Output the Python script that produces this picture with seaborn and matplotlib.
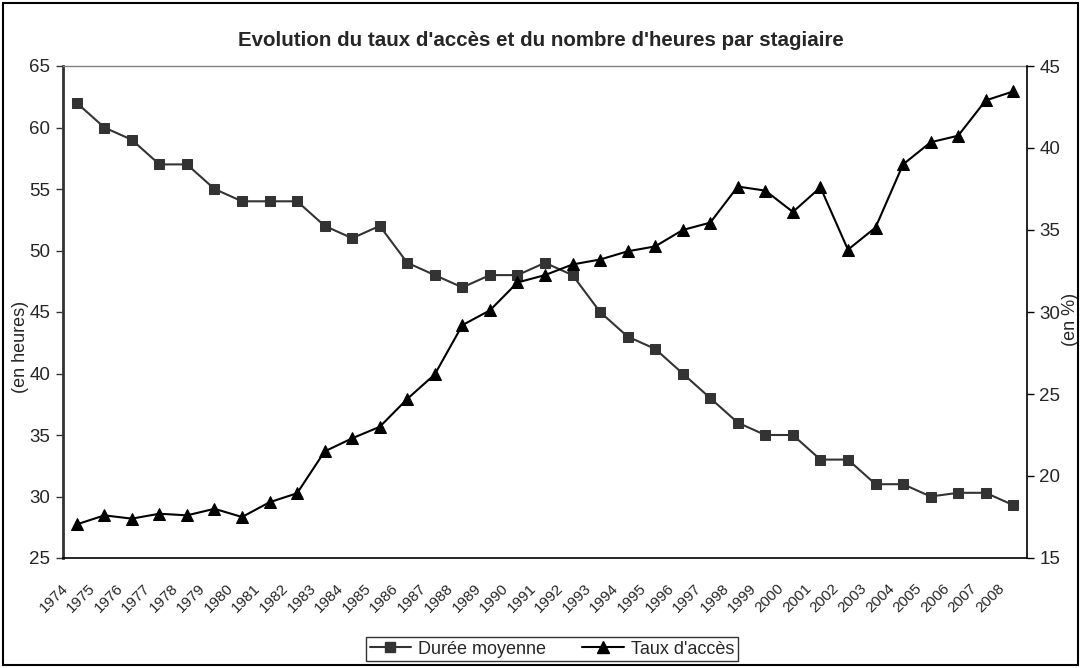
import numpy as np
import pandas as pd
import matplotlib
matplotlib.use("Agg")
import matplotlib.pyplot as plt
import matplotlib.transforms as mtransforms
from matplotlib.patches import Rectangle
from matplotlib.lines import Line2D
import seaborn as sns

years = list(range(1974, 2009))
duree_moyenne = [62, 60, 59, 57, 57, 55, 54, 54, 54, 52, 51, 52, 49, 48, 47, 48, 48, 49,
                 48, 45, 43, 42, 40, 38, 36, 35, 35, 33, 33, 31, 31, 30, 30.3, 30.3, 29.3]
taux_acces = [17.05, 17.6, 17.4, 17.7, 17.6, 18.0, 17.5, 18.4, 18.95, 21.5, 22.3, 23.0,
              24.7, 26.2, 29.2, 30.1, 31.8, 32.25, 32.9, 33.2, 33.7, 34.0, 35.0, 35.45,
              37.65, 37.4, 36.1, 37.6, 33.8, 35.15, 39.0, 40.35, 40.75, 42.9, 43.45]
left_ticks = [25, 30, 35, 40, 45, 50, 55, 60, 65]
right_ticks = [15, 20, 25, 30, 35, 40, 45]

sns.set_style("white")
plt.rcParams['font.family'] = ['Liberation Sans', 'DejaVu Sans']

df = pd.DataFrame({"annee": years, "duree": duree_moyenne, "taux": taux_acces})

W, H = 1081, 668
fig = plt.figure(figsize=(W / 100, H / 100), dpi=100)
ax = fig.add_axes([63 / W, 1 - 558 / H, (1027 - 63) / W, (558 - 66) / H])
ax2 = ax.twinx()

sns.lineplot(data=df, x="annee", y="duree", ax=ax, color="#333333", lw=1.5,
             marker="s", markersize=7, markeredgecolor="#333333", markerfacecolor="#333333")
sns.lineplot(data=df, x="annee", y="taux", ax=ax2, color="black", lw=1.5,
             marker="^", markersize=8, markeredgecolor="black", markerfacecolor="black")

ax.set_xlim(years[0] - 0.5, years[-1] + 0.5)
ax.set_ylim(25, 65)
ax2.set_ylim(15, 45)
ax.set_yticks(left_ticks)
ax2.set_yticks(right_ticks)

# category ticks at boundaries, labels at centres
ax.set_xticks(years)
ax.set_xticklabels([str(y) for y in years], rotation=45, ha="right",
                   rotation_mode="anchor", fontsize=11)
ax.set_xticks([y - 0.5 for y in years] + [years[-1] + 0.5], minor=True)
ax.tick_params(axis="x", which="major", length=0, pad=17)
ax.tick_params(axis="x", which="minor", length=8, width=1, direction="inout", color="black")
offset = mtransforms.ScaledTranslation(-16 / 100, 0, fig.dpi_scale_trans)
for lbl in ax.get_xticklabels():
    lbl.set_transform(lbl.get_transform() + offset)

ax.tick_params(axis="y", which="major", length=5, width=1, direction="out",
               color="#333333", labelsize=13.5, pad=4)
ax2.tick_params(axis="y", which="major", length=5, width=1, direction="out",
                color="black", labelsize=13.5, pad=4)

for a in (ax, ax2):
    a.set_xlabel("")
    a.grid(False)
ax.set_ylabel("(en heures)", fontsize=13)
ax2.set_ylabel("(en %)", fontsize=13)
ax.yaxis.set_label_coords(-0.035, 0.43)
ax2.yaxis.set_label_coords(1.036, 0.485)

ax.spines["left"].set_color("#333333")
ax.spines["left"].set_linewidth(2)
ax.spines["bottom"].set_color("black")
ax.spines["bottom"].set_linewidth(1.2)
ax.spines["top"].set_color("#808080")
ax.spines["top"].set_linewidth(1)
ax.spines["right"].set_visible(False)
ax2.spines["left"].set_visible(False)
ax2.spines["bottom"].set_visible(False)
ax2.spines["top"].set_visible(False)
ax2.spines["right"].set_color("black")
ax2.spines["right"].set_linewidth(1.2)
if ax.get_legend():
    ax.get_legend().remove()
if ax2.get_legend():
    ax2.get_legend().remove()

fig.text(0.5, 1 - 40 / H, "Evolution du taux d'accès et du nombre d'heures par stagiaire",
         ha="center", va="center", fontsize=14.8, fontweight="bold")

handles = [
    Line2D([], [], color="#333333", lw=1.5, marker="s", markersize=7),
    Line2D([], [], color="black", lw=1.5, marker="^", markersize=8),
]
leg = fig.legend(handles, ["Durée moyenne", "Taux d'accès"], loc="center",
                 bbox_to_anchor=((369 + 735) / 2 / W, 1 - 649 / H), ncol=2,
                 frameon=True, fancybox=False, edgecolor="black", fontsize=13,
                 handlelength=2.3, columnspacing=2.0, borderpad=0.2, handletextpad=0.4)
leg.get_frame().set_linewidth(1)

fig.patches.append(Rectangle((3 / W, 3 / H), 1 - 6 / W, 1 - 6 / H, transform=fig.transFigure,
                             fill=False, edgecolor="black", lw=1.5))

fig.savefig("out.png", dpi=100)
